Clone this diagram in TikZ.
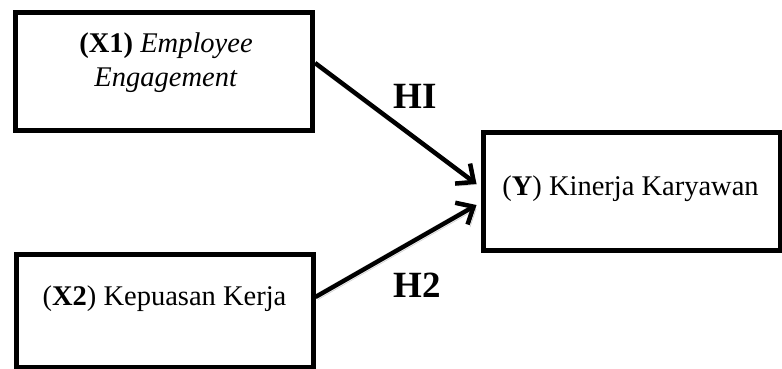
\documentclass[tikz,border=0pt]{standalone}
\usepackage{fontspec}
\setmainfont{Liberation Serif}
\usetikzlibrary{calc,positioning,arrows.meta}

\begin{document}
\begin{tikzpicture}[
					box/.style={draw, line width=5pt, minimum width=297pt, minimum height=118pt, inner sep=0pt},
					txt/.style={align=center, font=\fontsize{28.5}{34}\selectfont, inner sep=0pt},
					hyp/.style={font=\fontsize{37}{40}\selectfont\bfseries, inner sep=0pt},
					link/.style={line width=4.5pt, -{Straight Barb[length=14pt,width=25pt]},
						preaction={draw=gray!55, transform canvas={xshift=2.5pt,yshift=-2.5pt}}}
					]
					\useasboundingbox (0,0) rectangle (782pt,-369pt);
					
					\node[box] (x1) at (164pt,-71.5pt) {};
					\node[box, minimum height=113pt] (x2) at (164.5pt,-311pt) {};
					\node[box] (y) at (631.5pt,-191.5pt) {};
					
					\node[txt] (x1t) at ([xshift=2pt,yshift=8.5pt]x1.center) {\textbf{(X1)} \textit{Employee}\\ \textit{Engagement}};
					\node[txt] (x2t) at ([yshift=12pt]x2.center) {(\textbf{X2}) Kepuasan Kerja};
					\node[txt] (yt) at ([xshift=-1pt,yshift=3pt]y.center) {(\textbf{Y}) Kinerja Karyawan};
					
					\draw[link] ([yshift=8.5pt]x1.east) -- ([xshift=-4pt,yshift=7.5pt]y.west);
					\draw[link] ([yshift=14pt]x2.east) -- ([xshift=-4pt,yshift=-13.5pt]y.west);
					
					\node[hyp] (h1) at (415pt,-96pt) {HI};
					\node[hyp] (h2) at (417pt,-285pt) {H2};
					\end{tikzpicture}
\end{document}
